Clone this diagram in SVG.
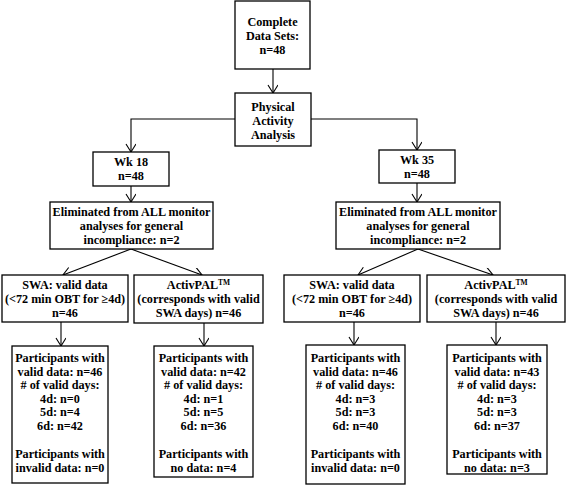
<svg xmlns="http://www.w3.org/2000/svg" width="567" height="486" viewBox="0 0 567 486">
<defs>
<style>
rect{fill:#fff;stroke:#000;stroke-width:1.3}
.c line,.c polyline{stroke:#000;stroke-width:1.1;fill:none}
text{font-family:"Liberation Serif","Times New Roman",serif;font-weight:bold;font-size:12.2px;text-anchor:middle;fill:#000}
.sup{font-size:7.5px}
</style>
<marker id="ah" markerWidth="12" markerHeight="12" refX="9" refY="5" orient="auto" markerUnits="userSpaceOnUse">
<polyline points="1,0 9,5 1,10" fill="none" stroke="#000" stroke-width="1.1"/>
</marker>
</defs>
<rect x="0" y="0" width="567" height="486" style="stroke:none"/>
<g class="c" id="connectors">
<line x1="273" y1="69" x2="273" y2="93" marker-end="url(#ah)"/>
<polyline points="235,119 131,119 131,152" marker-end="url(#ah)"/>
<polyline points="311,119 417,119 417,150" marker-end="url(#ah)"/>
<line x1="131" y1="186" x2="131" y2="202" marker-end="url(#ah)"/>
<line x1="417" y1="183" x2="417" y2="202" marker-end="url(#ah)"/>
<line x1="131" y1="249" x2="63" y2="275" marker-end="url(#ah)"/>
<line x1="131" y1="249" x2="202" y2="275" marker-end="url(#ah)"/>
<line x1="418" y1="249" x2="358" y2="275" marker-end="url(#ah)"/>
<line x1="418" y1="249" x2="493" y2="275" marker-end="url(#ah)"/>
<line x1="61" y1="322" x2="61" y2="346" marker-end="url(#ah)"/>
<line x1="204" y1="323" x2="204" y2="346" marker-end="url(#ah)"/>
<line x1="354" y1="322" x2="354" y2="345" marker-end="url(#ah)"/>
<line x1="496" y1="322" x2="496" y2="345" marker-end="url(#ah)"/>
</g>
<g id="complete">
<rect x="235" y="1" width="75" height="68"/>
<text x="272.5" y="26">Complete</text>
<text x="272.5" y="40">Data Sets:</text>
<text x="272.5" y="54">n=48</text>
</g>
<g id="pa">
<rect x="235" y="93" width="76" height="53"/>
<text x="273" y="111">Physical</text>
<text x="273" y="125">Activity</text>
<text x="273" y="139">Analysis</text>
</g>
<g id="wk18">
<rect x="93" y="152" width="76" height="34"/>
<text x="131" y="166">Wk 18</text>
<text x="131" y="180">n=48</text>
</g>
<g id="wk35">
<rect x="379" y="150" width="76" height="33"/>
<text x="417" y="164">Wk 35</text>
<text x="417" y="178">n=48</text>
</g>
<g id="elim18">
<rect x="50" y="202" width="163" height="47"/>
<text x="131.5" y="216">Eliminated from ALL monitor</text>
<text x="131.5" y="230">analyses for general</text>
<text x="131.5" y="244">incompliance: n=2</text>
</g>
<g id="elim35">
<rect x="336" y="202" width="164" height="47"/>
<text x="418" y="216">Eliminated from ALL monitor</text>
<text x="418" y="230">analyses for general</text>
<text x="418" y="244">incompliance: n=2</text>
</g>
<g id="swa18">
<rect x="2" y="275" width="126" height="47"/>
<text x="65" y="289">SWA: valid data</text>
<text x="65" y="303">(&lt;72 min OBT for ≥4d)</text>
<text x="65" y="317">n=46</text>
</g>
<g id="ap18">
<rect x="134" y="275" width="129" height="48"/>
<text x="198.5" y="289">ActivPAL<tspan class="sup" dy="-4">TM</tspan></text>
<text x="198.5" y="303">(corresponds with valid</text>
<text x="198.5" y="317">SWA days) n=46</text>
</g>
<g id="swa35">
<rect x="284" y="275" width="136" height="47"/>
<text x="352" y="289">SWA: valid data</text>
<text x="352" y="303">(&lt;72 min OBT for ≥4d)</text>
<text x="352" y="317">n=46</text>
</g>
<g id="ap35">
<rect x="427" y="275" width="138" height="47"/>
<text x="496" y="289">ActivPAL<tspan class="sup" dy="-4">TM</tspan></text>
<text x="496" y="303">(corresponds with valid</text>
<text x="496" y="317">SWA days) n=46</text>
</g>
<g id="p18swa">
<rect x="12" y="346" width="96" height="137"/>
<text x="60" y="362">Participants with</text>
<text x="60" y="375.5"><tspan>valid data: n=46</tspan></text>
<text x="60" y="389"># of valid days:</text>
<text x="60" y="402.5">4d: n=0</text>
<text x="60" y="416">5d: n=4</text>
<text x="60" y="429.5">6d: n=42</text>
<text x="60" y="458">Participants with</text>
<text x="60" y="471.5">invalid data: n=0</text>
</g>
<g id="p18ap">
<rect x="154" y="346" width="99" height="131"/>
<text x="203.5" y="362">Participants with</text>
<text x="203.5" y="375.5">valid data: n=42</text>
<text x="203.5" y="389"># of valid days:</text>
<text x="203.5" y="402.5">4d: n=1</text>
<text x="203.5" y="416">5d: n=5</text>
<text x="203.5" y="429.5">6d: n=36</text>
<text x="203.5" y="458">Participants with</text>
<text x="203.5" y="471.5">no data: n=4</text>
</g>
<g id="p35swa">
<rect x="306" y="345" width="99" height="139"/>
<text x="355.5" y="362">Participants with</text>
<text x="355.5" y="375.5">valid data: n=46</text>
<text x="355.5" y="389"># of valid days:</text>
<text x="355.5" y="402.5">4d: n=3</text>
<text x="355.5" y="416">5d: n=3</text>
<text x="355.5" y="429.5">6d: n=40</text>
<text x="355.5" y="458">Participants with</text>
<text x="355.5" y="471.5">invalid data: n=0</text>
</g>
<g id="p35ap">
<rect x="447" y="345" width="100" height="129"/>
<text x="497" y="362">Participants with</text>
<text x="497" y="375.5">valid data: n=43</text>
<text x="497" y="389"># of valid days:</text>
<text x="497" y="402.5">4d: n=3</text>
<text x="497" y="416">5d: n=3</text>
<text x="497" y="429.5">6d: n=37</text>
<text x="497" y="458">Participants with</text>
<text x="497" y="471.5">no data: n=3</text>
</g>
</svg>
